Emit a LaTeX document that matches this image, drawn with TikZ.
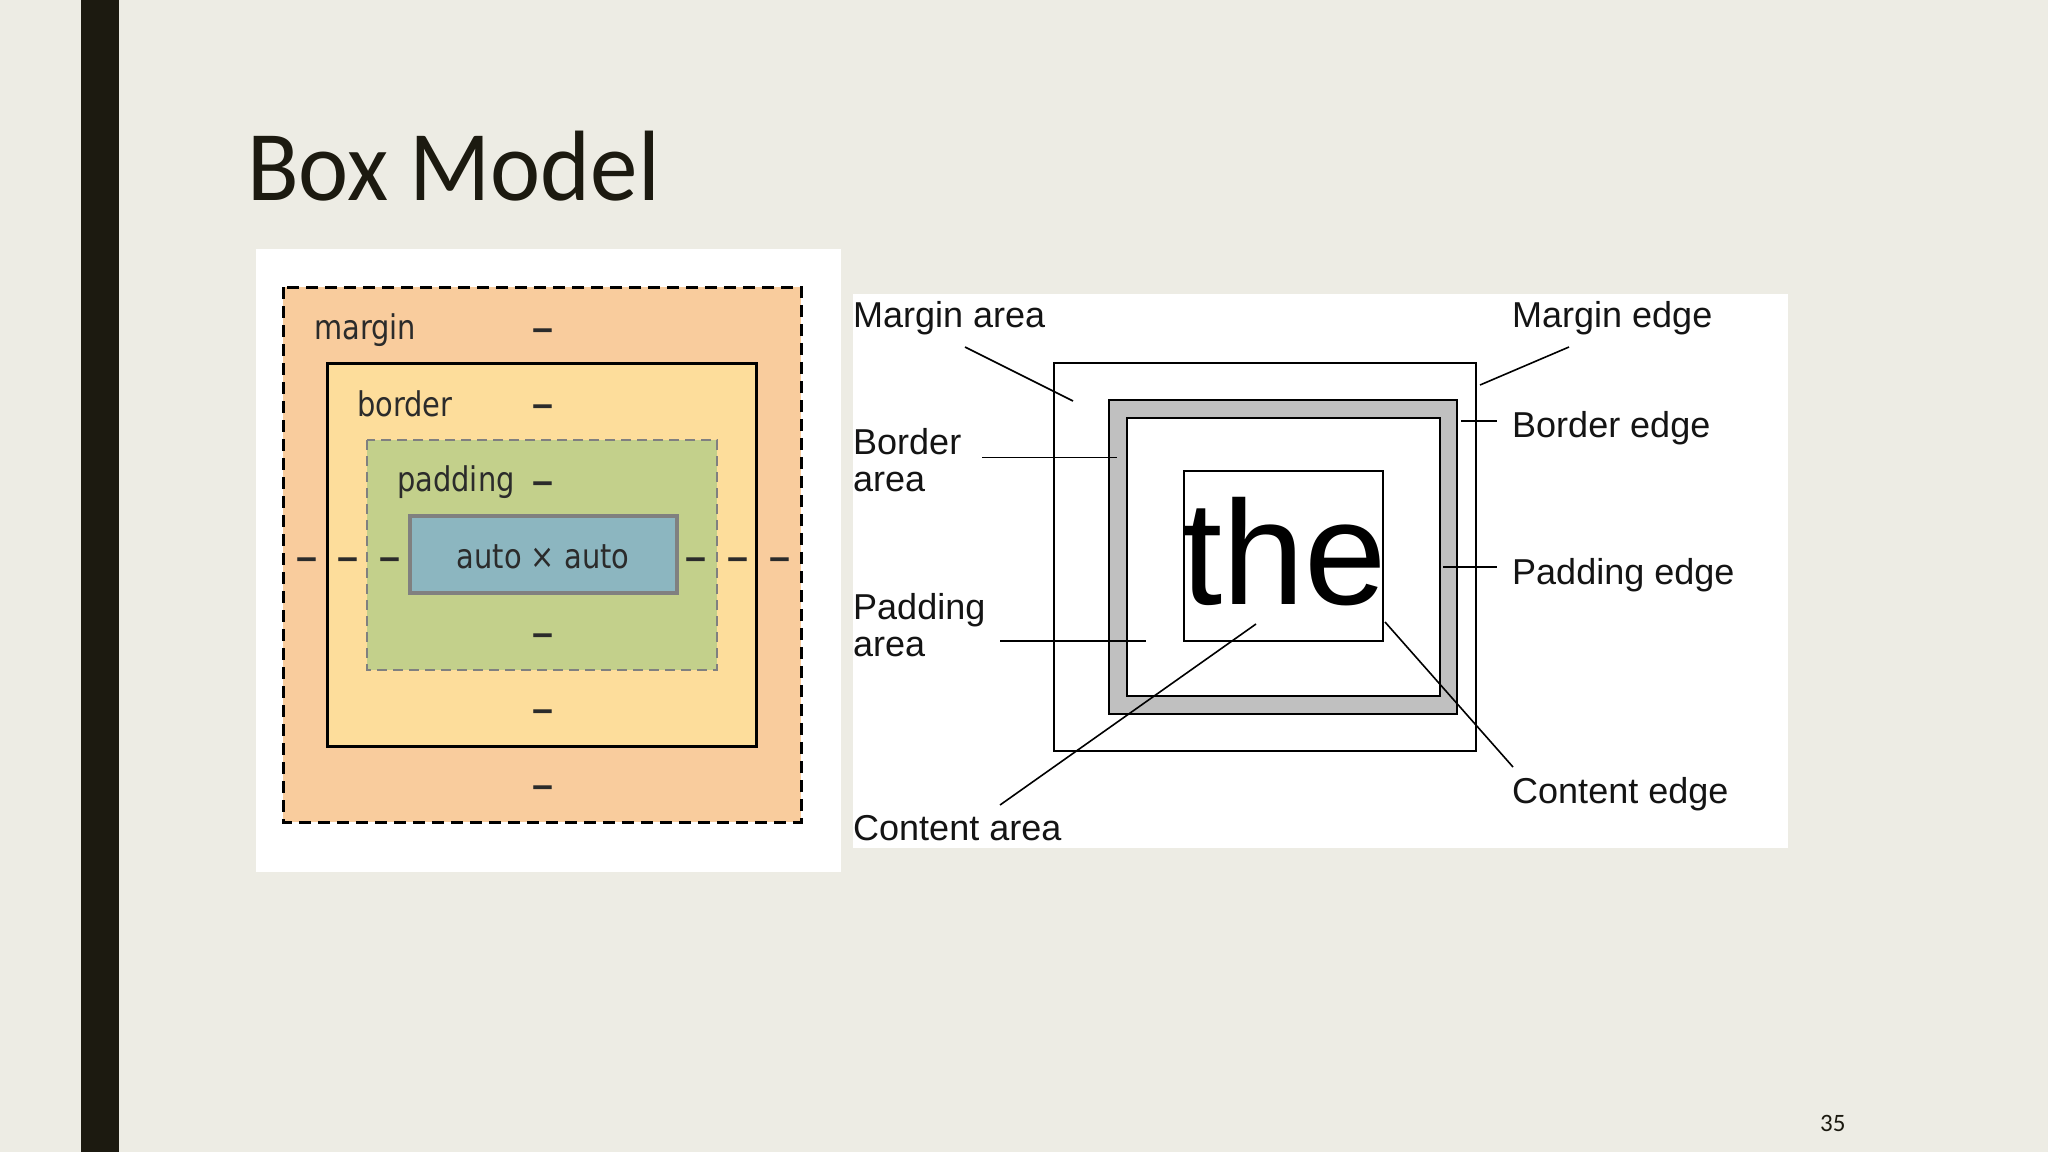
\documentclass[tikz,border=0pt]{standalone}
\usepackage{fontspec}
\setmainfont{Carlito}
\newfontfamily\titlefont[FakeStretch=0.95]{Carlito}
\newfontfamily\devfont[FakeStretch=0.85]{DejaVu Sans}
\newfontfamily\arialfont{Liberation Sans}
\definecolor{bgc}{HTML}{EDECE4}
\definecolor{barc}{HTML}{1C1A10}
\definecolor{marginc}{HTML}{F9CC9D}
\definecolor{borderc}{HTML}{FDDD9B}
\definecolor{paddingc}{HTML}{C3D08B}
\definecolor{contentc}{HTML}{8CB6C0}
\definecolor{devtext}{HTML}{2B2B2B}
\definecolor{bandc}{HTML}{C0C0C0}
\tikzset{
  devlabel/.style={anchor=base west, inner sep=0, text=devtext, font=\devfont\fontsize{34}{40}\selectfont},
  devdash/.style={anchor=base, inner sep=0, text=devtext, font=\devfont\fontsize{54}{60}\selectfont},
  boxlabel/.style={anchor=base west, inner sep=0, text=black!92, font=\arialfont\fontsize{36}{37}\selectfont},
  boxlabeltwo/.style={anchor=north west, inner sep=0, align=left, text=black!92, font=\arialfont\fontsize{36}{37}\selectfont},
  leader/.style={draw=black, line width=1.6pt},
}
\begin{document}
\begin{tikzpicture}[x=1pt,y=-1pt]
\fill[bgc] (0,0) rectangle (2048,1152);
\useasboundingbox (0,0) rectangle (2048,1152);
\fill[barc] (81,0) rectangle (119,1152);
\node[anchor=base west, inner sep=0, font=\titlefont\fontsize{100}{110}\selectfont, text=barc] (title) at (247,200) {Box Model};
\node[anchor=base west, inner sep=0, font=\fontsize{25}{30}\selectfont, text=barc] (pagenum) at (1820,1131) {35};

% ---------- left panel ----------
\fill[white] (256,249) rectangle (841,872);
\draw[black, fill=marginc, line width=3pt, dash pattern=on 12pt off 7pt] (283,287) rectangle (801,822);
\draw[black, fill=borderc, line width=3pt] (327,363) rectangle (756,746);
\draw[draw=black!50, fill=paddingc, line width=2.5pt, dash pattern=on 10pt off 6pt] (367,440) rectangle (717,670);
\draw[draw=black!50, fill=contentc, line width=3.5pt] (410,516) rectangle (677,593);
\node[devlabel] (lmargin) at (314,339) {margin};
\node[devlabel] (lborder) at (357,416) {border};
\node[devlabel] (lpadding) at (397,491) {padding};
\node[anchor=base, inner sep=0, text=devtext, font=\devfont\fontsize{34}{40}\selectfont] (lcontent) at (543,568) {auto × auto};
\foreach \yy [count=\i] in {330.6,407,483.7,636,712,788}
  \node[devdash] (dv\i) at (543,\yy+14.7) {–};
\foreach \xx [count=\i] in {306.6,348,390,696,738,780}
  \node[devdash] (dh\i) at (\xx,559.6+14.7) {–};

% ---------- right panel ----------
\fill[white] (853,294) rectangle (1788,848);
\draw[black, line width=2pt] (1054,363) rectangle (1476,751);
\draw[black, fill=bandc, line width=2pt] (1109,400) rectangle (1457,714);
\draw[black, fill=white, line width=2pt] (1127,418) rectangle (1440,696);
\draw[black, line width=1.6pt] (1184,471) rectangle (1383,641);
\node[anchor=base, inner sep=0, font=\arialfont\fontsize{148}{150}\selectfont] (the) at (1284,604) {the};

\node[boxlabel] (marea) at (853,327) {Margin area};
\node[boxlabel] (medge) at (1512,327) {Margin edge};
\node[boxlabeltwo] (barea) at (853,428) {Border\\area};
\node[boxlabel] (bedge) at (1512,437) {Border edge};
\node[boxlabel] (pedge) at (1512,584) {Padding edge};
\node[boxlabeltwo] (parea) at (853,593) {Padding\\area};
\node[boxlabel] (cedge) at (1512,803) {Content edge};
\node[boxlabel] (carea) at (853,840) {Content area};

\coordinate (ma1) at (965,347);  \coordinate (ma2) at (1073,401);
\coordinate (me1) at (1569,347); \coordinate (me2) at (1480,385);
\coordinate (be1) at (1461,421); \coordinate (be2) at (1497,421);
\coordinate (ba1) at (982,457.6); \coordinate (ba2) at (1117,457.6);
\coordinate (pe1) at (1443,567); \coordinate (pe2) at (1497,567);
\coordinate (pa1) at (1000,641); \coordinate (pa2) at (1146,641);
\coordinate (ca1) at (1000,805); \coordinate (ca2) at (1256,624);
\coordinate (ce1) at (1385,622); \coordinate (ce2) at (1513,767);
\draw[leader] (ma1) -- (ma2);
\draw[leader] (me1) -- (me2);
\draw[leader] (be1) -- (be2);
\draw[leader] (ba1) -- (ba2);
\draw[leader] (pe1) -- (pe2);
\draw[leader] (pa1) -- (pa2);
\draw[leader] (ca1) -- (ca2);
\draw[leader] (ce1) -- (ce2);
\end{tikzpicture}
\end{document}
